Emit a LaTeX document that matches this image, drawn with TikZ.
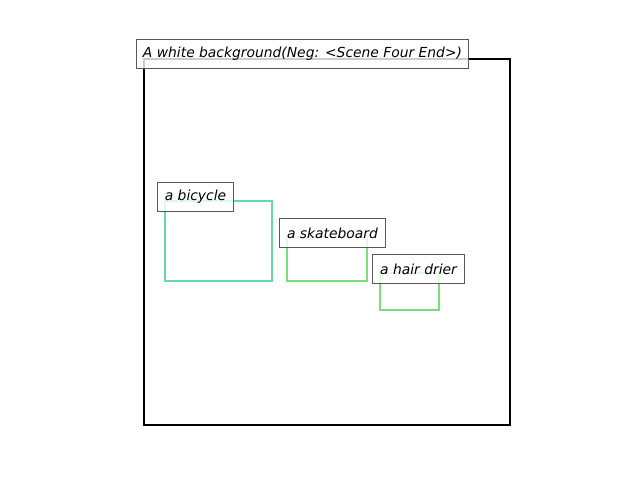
\documentclass[tikz,border=0pt]{standalone}
\usepackage{fontspec}
\setmainfont{DejaVu Sans}
\usepackage{xcolor}
\definecolor{bikegreen}{RGB}{102,217,170}
\definecolor{skategreen}{RGB}{122,222,122}
\definecolor{driergreen}{RGB}{120,220,120}
\tikzset{
  tag/.style={draw=black!65, line width=0.28pt, fill=white, fill opacity=0.8, text opacity=1,
    inner sep=0pt, font=\fontsize{3.94}{4.7}\selectfont\itshape},
  objbox/.style={line width=0.7pt}
}
\begin{document}
\begin{tikzpicture}[x=0.01cm, y=-0.01cm]

% Canvas
\useasboundingbox (0,0) rectangle (640,480);
\fill[white] (0,0) rectangle (640,480);

% Scene frame
\draw[line width=0.65pt] (144,59) rectangle (510,425);

% Object boxes
\draw[objbox, bikegreen] (165,201) rectangle (272,281);     % bicycle
\draw[objbox, skategreen] (287,237) rectangle (367,281);    % skateboard
\draw[objbox, driergreen] (380,273) rectangle (439,310);    % hair drier

% Labels
\node[tag, minimum width=3.31cm, minimum height=0.28cm] (scene) at (302.5,54) {A white background(Neg: <Scene Four End>)};
\node[tag, minimum width=0.75cm, minimum height=0.28cm] (bicycle) at (195.5,197) {a bicycle};
\node[tag, minimum width=1.05cm, minimum height=0.28cm] (skateboard) at (332.5,233) {a skateboard};
\node[tag, minimum width=0.91cm, minimum height=0.28cm] (drier) at (418.5,269) {a hair drier};

\end{tikzpicture}
\end{document}
